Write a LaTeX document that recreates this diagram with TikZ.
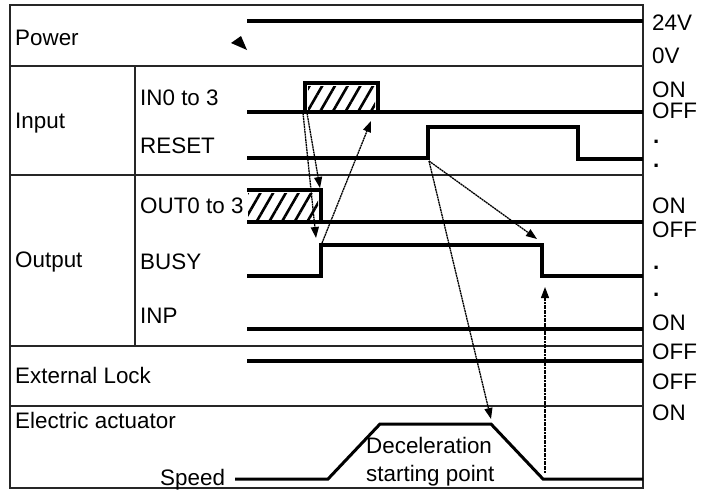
\documentclass[tikz,border=0pt]{standalone}
\usepackage{fontspec}
\setmainfont{Liberation Sans}
\usetikzlibrary{arrows.meta,patterns.meta}

\begin{document}
\begin{tikzpicture}[x=1pt,y=-1pt,
  font=\fontsize{22.4}{26}\selectfont,
  frame/.style={line width=1.3pt,draw=black!85},
  sig/.style={line width=4.5pt,line join=miter,line cap=butt},
  speedline/.style={line width=3pt,line join=miter},
  lbl/.style={anchor=base west,inner sep=0pt},
  cue/.style={-{Triangle[length=11pt,width=8pt]},line width=1.3pt,dash pattern=on 2pt off 0.6pt},
  hatch/.style={pattern={Lines[angle=60,distance=11pt,line width=2.6pt]}}
]
\useasboundingbox (0,0) rectangle (712,490);
% table frame
\draw[frame] (10,5) rectangle (643,488);
\foreach \y in {66,175,346,406} \draw[frame] (10,\y) -- (643,\y);
\draw[frame] (135,66) -- (135,346);
% row labels
\node[lbl] (power) at (15,45) {Power};
\node[lbl] (input) at (15,128) {Input};
\node[lbl] (output) at (15,267) {Output};
\node[lbl] (extlock) at (15,383) {External Lock};
\node[lbl] (actuator) at (15,428) {Electric actuator};
\node[lbl] (speed) at (160,485) {Speed};
\node[lbl] (in) at (140,105) {IN0 to 3};
\node[lbl] (reset) at (140,153) {RESET};
\node[lbl] (out) at (140,213) {OUT0 to 3};
\node[lbl] (busy) at (140,269) {BUSY};
\node[lbl] (inp) at (140,323) {INP};
% levels on the right
\foreach \y/\t in {30/24V,63/0V,97/ON,118/OFF,213/ON,237/OFF,330/ON,359/OFF,389/OFF,420/ON}
  \node[lbl] (lv\y) at (652,\y) {\t};
\foreach \y in {143,167,269,296}
  \node[lbl] (dot\y) at (653,\y) {\textbf{.}};
% signals
\draw[sig] (247,21) -- (643,21);
\fill[black] (231,43) -- (241,36) -- (247,50) -- cycle;
\fill[hatch] (308,86) rectangle (375,109);
\draw[sig] (305,112) -- (305,83) -- (378,83) -- (378,112);
\draw[sig] (247,112) -- (643,112);
\draw[sig] (247,158) -- (428,158) -- (428,127) -- (578,127) -- (578,159) -- (643,159);
\fill[hatch] (248,193) rectangle (318,219);
\draw[sig] (247,190) -- (321,190) -- (321,222);
\draw[sig] (247,222) -- (643,222);
\draw[sig] (247,276) -- (321,276) -- (321,245) -- (542,245) -- (542,276) -- (643,276);
\draw[sig] (247,329) -- (643,329);
\draw[sig] (247,361) -- (643,361);
\draw[speedline] (235,479) -- (328,479) -- (380,424) -- (491,424) -- (543,479) -- (643,479);
\node[lbl] (decel) at (366,453) {Deceleration};
\node[lbl] (startpt) at (366,481) {starting point};
% timing cues
\coordinate (inriseA) at (307,113);
\coordinate (inriseB) at (303,113);
\coordinate (outtop) at (320,188);
\coordinate (busytip) at (316,238);
\coordinate (busyrise) at (322,243);
\coordinate (infall) at (371,121);
\coordinate (resetrise) at (429,161);
\coordinate (busyfall) at (537,239);
\coordinate (decelpt) at (491,419);
\coordinate (stopped) at (545,473);
\coordinate (busylow) at (545,287);
\draw[cue] (inriseA) -- (outtop);
\draw[cue] (inriseB) -- (busytip);
\draw[cue] (busyrise) -- (infall);
\draw[cue] (resetrise) -- (busyfall);
\draw[cue] (resetrise) -- (decelpt);
\draw[cue] (stopped) -- (busylow);
\end{tikzpicture}
\end{document}
